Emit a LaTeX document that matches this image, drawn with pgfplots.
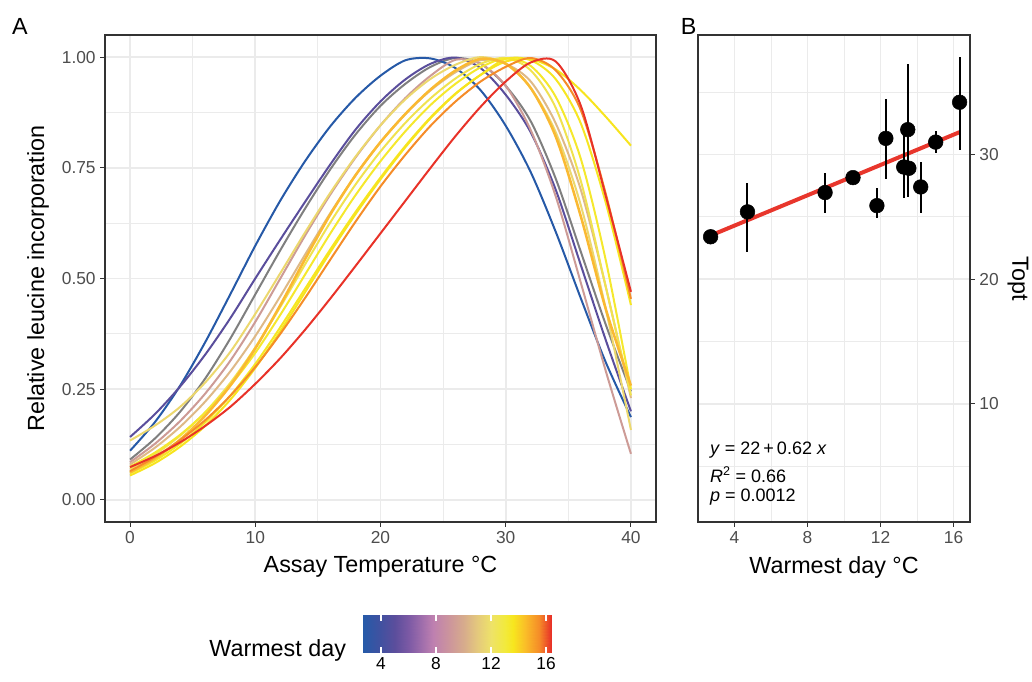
\documentclass[border=0pt]{standalone}
\usepackage{fontspec}
\setmainfont{Liberation Sans}
\usepackage{pgfplots}
\pgfplotsset{compat=1.18}

\definecolor{gridc}{HTML}{EBEBEB}
\definecolor{framec}{HTML}{333333}
\definecolor{tickc}{HTML}{4D4D4D}
\definecolor{fitred}{RGB}{232,54,44}
% one colour per site (warmest day)
\definecolor{s027}{RGB}{38,89,167}
\definecolor{s047}{RGB}{90,78,156}
\definecolor{sNA}{RGB}{127,127,127}
\definecolor{s090}{RGB}{205,155,150}
\definecolor{s105}{RGB}{222,185,135}
\definecolor{s118}{RGB}{236,216,110}
\definecolor{s123}{RGB}{240,226,80}
\definecolor{s133}{RGB}{245,232,45}
\definecolor{s135}{RGB}{246,230,35}
\definecolor{s136}{RGB}{247,228,30}
\definecolor{s142}{RGB}{250,185,50}
\definecolor{s150}{RGB}{245,140,40}
\definecolor{s163}{RGB}{232,50,40}

\newcommand\tk{\fontsize{13}{15}\selectfont}
\newcommand\ttl{\fontsize{17.5}{20}\selectfont}

\pgfplotsset{
  colormap={wd}{rgb255(0pt)=(37,90,168); rgb255(13.1pt)=(66,81,160);
    rgb255(23.1pt)=(92,78,156); rgb255(33.1pt)=(125,90,165);
    rgb255(43.1pt)=(160,110,172); rgb255(51.1pt)=(190,128,176);
    rgb255(63.1pt)=(205,150,155); rgb255(73.1pt)=(215,172,140);
    rgb255(83.1pt)=(228,200,125); rgb255(93.1pt)=(238,226,105);
    rgb255(103.1pt)=(242,234,60); rgb255(109.1pt)=(247,230,30);
    rgb255(118.1pt)=(250,190,40); rgb255(128.1pt)=(245,140,40);
    rgb255(136.7pt)=(232,50,40)},
  ggpanel/.style={
    scale only axis, anchor=south west,
    grid=both,
    major grid style={gridc, line width=1.3pt},
    minor grid style={gridc, line width=0.65pt},
    axis line style={framec, line width=0.8pt},
    tick style={framec, line width=0.8pt},
    major tick length=3.5pt, minor tick length=0pt, tick align=outside,
    ticklabel style={font=\tk, text=tickc},
    /pgf/number format/assume math mode=true,
  },
}

\begin{document}
\begin{tikzpicture}

% ---------- panel A ----------
\begin{axis}[ggpanel,
  at={(78.75pt,120pt)}, width=413.25pt, height=365.25pt,
  xmin=-2, xmax=42, ymin=-0.05, ymax=1.05,
  xtick={0,10,20,30,40}, minor xtick={5,15,25,35},
  ytick={0,0.25,0.5,0.75,1}, minor ytick={0.125,0.375,0.625,0.875},
  yticklabels={0.00,0.25,0.50,0.75,1.00},
  xtick pos=left, ytick pos=left,
  every axis plot/.append style={line width=1.5pt, smooth},
]
\addplot[sNA] coordinates {(0,.091)(2,.139)(4,.199)(6,.274)(8,.364)(10,.464)(12,.564)(14,.659)(16,.747)(18,.825)(20,.89)(22,.94)(24,.978)(26,.998)(28,.985)(30,.935)(32,.855)(34,.725)(36,.56)(38,.395)(40,.245)};
\addplot[s027] coordinates {(0,.111)(2,.176)(4,.258)(6,.356)(8,.464)(10,.574)(12,.676)(14,.766)(16,.844)(18,.908)(20,.958)(22,.993)(24,.997)(26,.975)(28,.925)(30,.845)(32,.74)(34,.605)(36,.455)(38,.31)(40,.187)};
\addplot[s047] coordinates {(0,.142)(2,.194)(4,.256)(6,.328)(8,.41)(10,.5)(12,.588)(14,.674)(16,.758)(18,.836)(20,.9)(22,.95)(24,.985)(26,.999)(28,.975)(30,.915)(32,.83)(34,.70)(36,.53)(38,.36)(40,.2)};
\addplot[s090] coordinates {(0,.085)(2,.127)(4,.178)(6,.24)(8,.314)(10,.402)(12,.5)(14,.598)(16,.69)(18,.773)(20,.846)(22,.908)(24,.958)(26,.994)(28,.985)(30,.935)(32,.835)(34,.685)(36,.49)(38,.29)(40,.104)};
\addplot[s105] coordinates {(0,.08)(2,.118)(4,.165)(6,.222)(8,.29)(10,.37)(12,.46)(14,.555)(16,.648)(18,.733)(20,.808)(22,.872)(24,.925)(26,.966)(28,.993)(30,.985)(32,.945)(34,.85)(36,.7)(38,.48)(40,.23)};
\addplot[s118] coordinates {(0,.134)(2,.168)(4,.21)(6,.265)(8,.334)(10,.42)(12,.512)(14,.605)(16,.694)(18,.775)(20,.846)(22,.905)(24,.951)(26,.983)(28,1)(30,.985)(32,.93)(34,.83)(36,.665)(38,.43)(40,.158)};
\addplot[s123] coordinates {(0,.07)(2,.103)(4,.145)(6,.198)(8,.264)(10,.344)(12,.436)(14,.533)(16,.627)(18,.712)(20,.787)(22,.852)(24,.907)(26,.952)(28,.985)(30,.998)(32,.97)(34,.885)(36,.72)(38,.48)(40,.236)};
\addplot[s133] coordinates {(0,.075)(2,.107)(4,.147)(6,.197)(8,.258)(10,.332)(12,.418)(14,.51)(16,.602)(18,.688)(20,.765)(22,.833)(24,.892)(26,.94)(28,.977)(30,.997)(32,.98)(34,.91)(36,.77)(38,.54)(40,.25)};
\addplot[s135] coordinates {(0,.06)(2,.089)(4,.127)(6,.175)(8,.235)(10,.307)(12,.39)(14,.478)(16,.566)(18,.65)(20,.728)(22,.8)(24,.864)(26,.918)(28,.96)(30,.996)(32,.993)(34,.95)(36,.85)(38,.67)(40,.44)};
\addplot[s136] coordinates {(0,.055)(2,.083)(4,.12)(6,.167)(8,.226)(10,.298)(12,.381)(14,.47)(16,.56)(18,.645)(20,.724)(22,.797)(24,.862)(26,.917)(28,.96)(30,.99)(32,.995)(34,.972)(36,.925)(38,.865)(40,.8)};
\addplot[s142, line width=1.9pt] coordinates {(0,.062)(2,.094)(4,.136)(6,.19)(8,.258)(10,.342)(12,.44)(14,.545)(16,.645)(18,.733)(20,.808)(22,.872)(24,.927)(26,.97)(28,.996)(30,.985)(32,.93)(34,.82)(36,.64)(38,.43)(40,.258)};
\addplot[s150] coordinates {(0,.065)(2,.097)(4,.135)(6,.18)(8,.235)(10,.3)(12,.375)(14,.457)(16,.543)(18,.628)(20,.708)(22,.78)(24,.845)(26,.9)(28,.945)(30,.978)(32,.998)(34,.97)(36,.88)(38,.69)(40,.454)};
\addplot[s163] coordinates {(0,.074)(2,.099)(4,.13)(6,.167)(8,.21)(10,.262)(12,.32)(14,.385)(16,.455)(18,.528)(20,.602)(22,.676)(24,.75)(26,.822)(28,.888)(30,.945)(32,.988)(34,.99)(36,.89)(38,.685)(40,.47)};
\end{axis}

% ---------- panel B ----------
\begin{axis}[ggpanel,
  at={(523.5pt,120pt)}, width=204pt, height=365.25pt,
  xmin=2.0, xmax=16.9, ymin=0.5, ymax=39.6,
  xtick={4,8,12,16}, minor xtick={2,6,10,14},
  ytick={10,20,30}, minor ytick={5,15,25,35},
  xtick pos=left, ytick pos=right, yticklabel pos=right,
]
\addplot[fitred, line width=3pt] coordinates {(2.69,23.5) (16.33,31.8)};
\addplot[only marks, mark=none, error bars/.cd, y dir=both, y explicit, error mark=none,
  error bar style={black, line width=1.5pt}] coordinates {
  (4.71,25.4) += (0,2.35) -= (0,3.2)
  (8.96,26.95) += (0,1.55) -= (0,1.65)
  (11.8,25.9) += (0,1.4) -= (0,1.0)
  (12.29,31.3) += (0,3.2) -= (0,3.3)
  (13.27,29.0) += (0,2.6) -= (0,2.5)
  (13.49,32.0) += (0,5.3) -= (0,5.4)
  (14.2,27.4) += (0,2.0) -= (0,2.1)
  (15.02,31.0) += (0,0.9) -= (0,0.9)
  (16.33,34.2) += (0,3.6) -= (0,3.8)
};
\addplot[only marks, mark=*, mark size=5.5pt, black] coordinates {
  (2.69,23.4) (4.71,25.4) (8.96,26.95) (10.49,28.15) (11.8,25.9) (12.29,31.3)
  (13.27,29.0) (13.49,32.0) (13.55,28.9) (14.2,27.4) (15.02,31.0) (16.33,34.2)};
\end{axis}

% ---------- colour bar ----------
\begin{axis}[
  at={(272.25pt,21.75pt)}, anchor=south west, scale only axis,
  width=141pt, height=28.5pt,
  xmin=2.69, xmax=16.36, ymin=0, ymax=1,
  axis line style={draw=none}, ytick=\empty,
  xtick={4,8,12,16}, xtick pos=both, xticklabel pos=left,
  tick align=inside, major tick length=4.5pt,
  tick style={white, line width=0.9pt},
  xticklabel style={font=\tk, text=black},
  /pgf/number format/assume math mode=true,
  colormap name=wd, point meta min=2.69, point meta max=16.36,
  axis on top,
]
\addplot[surf, shader=interp, point meta=x, mesh/cols=15] coordinates {
  (2.69,0) (4,0) (5,0) (6,0) (7,0) (7.8,0) (9,0) (10,0) (11,0) (12,0) (13,0) (13.6,0) (14.5,0) (15.5,0) (16.36,0)
  (2.69,1) (4,1) (5,1) (6,1) (7,1) (7.8,1) (9,1) (10,1) (11,1) (12,1) (13,1) (13.6,1) (14.5,1) (15.5,1) (16.36,1)};
\end{axis}

% ---------- labels ----------
\node[font=\ttl] at (15pt,491.6pt) {A};
\node[font=\ttl] at (516.4pt,491.6pt) {B};
\node[font=\ttl, rotate=90] at (28.5pt,302.6pt) {Relative leucine incorporation};
\node[font=\ttl] at (285.4pt,86.25pt) {Assay Temperature °C};
\node[font=\ttl] at (625.5pt,86.25pt) {Warmest day °C};
\node[font=\ttl, rotate=-90] at (763.5pt,302.6pt) {Topt};
\node[font=\ttl, anchor=east] at (263pt,24pt) {Warmest day};
\node[font=\fontsize{13.5}{15}\selectfont, anchor=west] at (529pt,174pt) {\textit{y} = 22\,+\,0.62 \textit{x}};
\node[font=\fontsize{13.5}{15}\selectfont, anchor=west] at (529pt,155.25pt) {\textit{R}\textsuperscript{2} = 0.66};
\node[font=\fontsize{13.5}{15}\selectfont, anchor=west] at (529pt,138.75pt) {\textit{p} = 0.0012};

\pgfresetboundingbox
\useasboundingbox (0,0) rectangle (774pt,511.5pt);
\end{tikzpicture}
\end{document}
